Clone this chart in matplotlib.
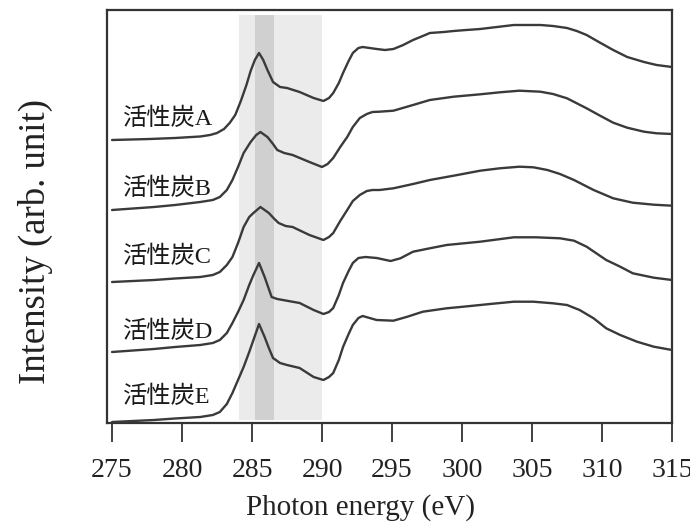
import numpy as np
import matplotlib
matplotlib.use('Agg')
import matplotlib.pyplot as plt

# photon energy (eV) and intensity (arb. unit, already offset)
x_a = [275, 277.7, 279.5, 281.3, 282.0, 282.5, 283.0, 283.4, 283.8, 284.2, 284.6, 284.9,
       285.2, 285.5, 285.8, 286.1, 286.5, 287.0, 287.5, 288.4, 289.4, 290.1, 290.5, 290.8,
       291.2, 291.5, 291.9, 292.2, 292.6, 292.9, 293.4, 293.9, 294.5, 295.1, 295.8, 296.5,
       297.2, 297.7, 298.7, 299.4, 300.3, 301.3, 302.5, 303.7, 304.6, 305.6, 306.5, 307.5,
       308.2, 308.9, 309.9, 310.8, 311.8, 313.0, 313.9, 315]
y_a = [283, 284, 285, 286.5, 288, 290, 294, 300, 308, 322, 338, 352,
       363, 370, 363, 353, 341, 336, 335, 331, 325, 322, 325, 330,
       340, 350, 362, 370, 375, 376, 375, 374, 373, 374, 378, 383,
       387, 390, 391, 392, 393, 394, 396, 398, 398, 398, 397, 395,
       392, 388, 380, 373, 366, 361, 358, 356]

x_b = [275, 278, 279.5, 281.3, 282.2, 282.7, 283.2, 283.6, 284.0, 284.4, 284.9, 285.3,
       285.6, 286.1, 286.5, 286.8, 287.3, 287.9, 289.1, 290.0, 290.4, 290.8, 291.3, 291.8,
       292.2, 292.7, 293.2, 293.6, 294.1, 295.1, 296.5, 297.7, 299.4, 301.3, 302.7, 304.1,
       305.6, 306.5, 307.5, 308.9, 309.9, 310.8, 311.8, 313.0, 313.9, 315]
y_b = [213, 216, 218, 221, 223, 226, 233, 243, 256, 270, 281, 288,
       291, 286, 279, 273, 270, 268, 261, 256, 259, 265, 276, 286,
       296, 305, 309, 311, 311.3, 312.3, 318, 323, 326.3, 328.7, 330.7, 332.3,
       331.3, 329, 324.7, 314.7, 307, 300.3, 295.3, 291.3, 289.7, 289]

x_c = [275, 278, 279.5, 281.3, 282.2, 282.7, 283.2, 283.6, 284.0, 284.4, 284.8, 285.1,
       285.6, 286.2, 286.6, 286.9, 287.4, 287.9, 289.1, 290.1, 290.5, 290.8, 291.3, 291.8,
       292.2, 292.7, 293.2, 293.6, 294.1, 295.1, 296.5, 297.7, 299.4, 301.3, 302.7, 304.1,
       305.1, 306.1, 307.0, 308.0, 309.4, 310.8, 312.2, 313.7, 315]
y_c = [141, 143, 144.5, 146, 148, 151, 158, 166, 180, 196, 206, 210,
       216, 210, 204, 200, 197, 196, 188, 183, 186, 190, 202, 213,
       222, 228, 232, 233, 233, 234.7, 239, 243, 247.3, 252.3, 254.7, 256.3,
       255.7, 253, 249, 243, 233, 224.7, 220.3, 218.3, 217.3]

x_d = [275, 278, 279.5, 281.3, 282.2, 282.7, 283.2, 283.6, 284.0, 284.4, 284.8, 285.1,
       285.5, 285.9, 286.2, 286.4, 286.8, 287.2, 288.4, 289.4, 290.1, 290.5, 290.8, 291.2,
       291.5, 291.9, 292.2, 292.6, 293.1, 293.9, 294.9, 295.6, 296.5, 297.7, 298.9, 301.3,
       303.7, 305.3, 307.0, 308.0, 308.9, 310.3, 311.3, 312.2, 313.7, 315]
y_d = [71, 74, 76, 78, 80, 83, 90, 100, 111, 123, 138, 148,
       160, 146, 134, 126, 124, 123, 120, 113, 109, 111, 115, 128,
       140, 152, 160, 165, 166, 165, 162, 164.7, 171.3, 174.7, 178, 181.3,
       185.7, 185.7, 184.7, 182.3, 176.3, 163, 156.3, 149.7, 145.3, 143]

x_e = [275, 278, 279.5, 281.3, 282.2, 282.7, 283.2, 283.6, 284.0, 284.4, 284.8, 285.1,
       285.5, 285.9, 286.2, 286.5, 287.0, 287.5, 288.4, 289.4, 290.1, 290.5, 290.8, 291.2,
       291.5, 291.9, 292.2, 292.6, 292.9, 293.9, 295.1, 296.1, 297.2, 298.9, 300.1, 302.0,
       303.7, 305.1, 306.5, 307.5, 308.4, 309.4, 310.3, 311.3, 312.5, 313.7, 315]
y_e = [1, 3, 4.5, 6, 8, 11, 19, 30, 43, 56, 71, 83,
       99, 86, 75, 65, 60, 58, 55, 46, 43, 46, 50, 63,
       76, 89, 98, 105, 107, 103, 102.3, 106.3, 111.3, 114.7, 116.3, 119,
       121.3, 121.3, 119.7, 118, 113, 104.7, 94.7, 88, 81.3, 76.3, 73]

names = ['活性炭A', '活性炭B', '活性炭C', '活性炭D', '活性炭E']
label_y = [304, 234, 166, 91, 26]

light_band = (284.1, 290.0)
dark_band = (285.2, 286.6)

serif = ['Liberation Serif', 'Noto Sans CJK JP']
line_col = '#3a3a3a'

fig = plt.figure(figsize=(6.9, 5.24), dpi=100)
ax = fig.add_axes([107 / 690, 101 / 524, 565 / 690, 413 / 524])

ax.axvspan(*light_band, ymin=0.008, ymax=0.988, color='#ebebeb', lw=0, zorder=0)
ax.axvspan(*dark_band, ymin=0.008, ymax=0.988, color='#d0d0d0', lw=0, zorder=1)

for xs, ys in [(x_a, y_a), (x_b, y_b), (x_c, y_c), (x_d, y_d), (x_e, y_e)]:
    ax.plot(xs, ys, color=line_col, lw=1.7, solid_joinstyle='round',
            solid_capstyle='round', zorder=3)

for name, ly in zip(names, label_y):
    ax.text(275.8, ly, name, family=serif, fontsize=17.5, color='#1a1a1a',
            ha='left', va='center', zorder=4)

ax.set_xlim(274.64, 315)
ax.set_ylim(0, 413)
ax.set_xticks(np.arange(275, 316, 5))
ax.set_yticks([])
ax.tick_params(axis='x', direction='out', length=14, width=1.3, color='#333333',
               pad=11, labelsize=20, labelcolor='#222222')
for lab in ax.get_xticklabels():
    lab.set_family(serif)
for sp in ax.spines.values():
    sp.set_linewidth(1.6)
    sp.set_color('#333333')

fig.text(360 / 690, 1 - 508 / 524, 'Photon energy (eV)', family=serif, fontsize=21,
         color='#222222', ha='center', va='center')
fig.text(35 / 690, 1 - 242 / 524, 'Intensity (arb. unit)', family=serif, fontsize=26.5,
         color='#222222', ha='center', va='center', rotation=90)

fig.savefig('out.png', dpi=100)
